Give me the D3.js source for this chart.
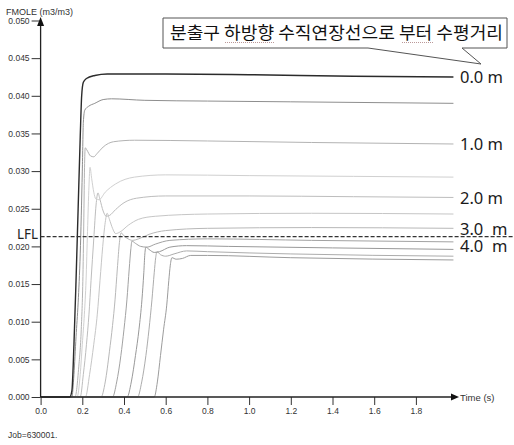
<!DOCTYPE html>
<html>
<head>
<meta charset="UTF-8">
<title>FMOLE vs Time</title>
<script src="https://d3js.org/d3.v7.min.js"></script>
<style>
  body { margin: 0; background: #fff; }
  svg text { font-family: "Liberation Sans", Arial, sans-serif; }
</style>
</head>
<body>
<svg id="chart" width="514" height="445"></svg>
<script>
// monitor points, horizontal distance (m)
const distances = ["0.0", "0.5", "1.0", "1.5", "2.0", "2.5", "3.0", "3.5", "4.0", "4.5", "5.0"];

// [time (s), FMOLE (m3/m3)]
const s00 = [[0,0],[0.14,0],[0.15,0.0008],[0.16,0.007],[0.17,0.0155],[0.18,0.025],[0.19,0.0345],[0.197,0.04],[0.205,0.0418],[0.22,0.0423],[0.26,0.0427],[0.32,0.0429],[0.6,0.0429],[1.0,0.0428],[1.5,0.0426],[1.98,0.0425]];
const s05 = [[0,0],[0.15,0],[0.16,0.003],[0.17,0.008],[0.18,0.0125],[0.19,0.019],[0.2,0.03],[0.205,0.0365],[0.212,0.0381],[0.23,0.0386],[0.26,0.039],[0.3,0.0395],[0.34,0.0396],[0.5,0.0394],[0.8,0.0393],[1.2,0.0392],[1.98,0.039]];
const s10 = [[0,0],[0.165,0],[0.183,0.004],[0.195,0.009],[0.203,0.016],[0.208,0.025],[0.211,0.031],[0.214,0.0331],[0.222,0.0328],[0.24,0.032],[0.255,0.0319],[0.27,0.0323],[0.3,0.0332],[0.35,0.0339],[0.45,0.0341],[0.8,0.034],[1.3,0.0338],[1.98,0.0336]];
const s15 = [[0,0],[0.175,0],[0.19,0.003],[0.2,0.007],[0.21,0.011],[0.218,0.0155],[0.225,0.022],[0.232,0.028],[0.237,0.0305],[0.245,0.029],[0.255,0.0272],[0.265,0.0263],[0.28,0.0262],[0.31,0.0272],[0.36,0.0283],[0.45,0.0292],[0.6,0.0295],[1.0,0.0294],[1.5,0.0293],[1.98,0.0292]];
const s20 = [[0,0],[0.19,0],[0.205,0.003],[0.22,0.007],[0.232,0.011],[0.242,0.0155],[0.255,0.021],[0.266,0.0255],[0.275,0.0271],[0.285,0.0262],[0.3,0.0247],[0.315,0.024],[0.33,0.0241],[0.36,0.0249],[0.4,0.0258],[0.46,0.0264],[0.6,0.0267],[1.0,0.0267],[1.5,0.0266],[1.98,0.0265]];
const s25 = [[0,0],[0.215,0],[0.235,0.003],[0.255,0.007],[0.272,0.011],[0.285,0.0155],[0.298,0.02],[0.31,0.0232],[0.319,0.0244],[0.33,0.0236],[0.345,0.0224],[0.36,0.0217],[0.38,0.0219],[0.42,0.0228],[0.47,0.0236],[0.55,0.024],[0.8,0.0243],[1.3,0.0244],[1.98,0.0243]];
const s30 = [[0,0],[0.29,0],[0.31,0.002],[0.33,0.006],[0.345,0.0095],[0.357,0.0129],[0.368,0.017],[0.378,0.0205],[0.386,0.0218],[0.4,0.0214],[0.42,0.021],[0.44,0.0208],[0.47,0.021],[0.52,0.0216],[0.6,0.0221],[0.8,0.0224],[1.3,0.0225],[1.98,0.0224]];
const s35 = [[0,0],[0.345,0],[0.365,0.002],[0.385,0.0055],[0.4,0.009],[0.414,0.0129],[0.425,0.017],[0.433,0.0197],[0.438,0.0207],[0.455,0.0204],[0.48,0.02],[0.51,0.0199],[0.55,0.0203],[0.62,0.0208],[0.8,0.021],[1.3,0.0208],[1.98,0.0206]];
const s40 = [[0,0],[0.415,0],[0.435,0.002],[0.455,0.0055],[0.472,0.009],[0.486,0.0129],[0.495,0.0165],[0.5,0.019],[0.505,0.0199],[0.52,0.0196],[0.545,0.0192],[0.57,0.0193],[0.62,0.0199],[0.7,0.0201],[0.9,0.02],[1.4,0.0198],[1.98,0.0196]];
const s45 = [[0,0],[0.465,0],[0.485,0.002],[0.505,0.0055],[0.52,0.009],[0.534,0.0129],[0.545,0.0165],[0.552,0.0185],[0.558,0.0193],[0.575,0.0189],[0.6,0.0187],[0.64,0.019],[0.7,0.0194],[0.8,0.0193],[1.2,0.019],[1.98,0.0187]];
const s50 = [[0,0],[0.545,0],[0.56,0.002],[0.575,0.0055],[0.59,0.009],[0.605,0.0122],[0.615,0.0155],[0.622,0.0175],[0.63,0.0185],[0.65,0.0183],[0.68,0.0184],[0.72,0.0188],[0.8,0.0188],[1.2,0.0185],[1.98,0.0182]];
const series = [s00, s05, s10, s15, s20, s25, s30, s35, s40, s45, s50];

const lineColors = ["#2b2b2b", "#8e8e8e", "#b3b3b3", "#d0d0d0", "#bdbdbd", "#c6c6c6", "#b8b8b8", "#a2a2a2", "#999999", "#acacac", "#9c9c9c"];

const xTicks = [0, 0.2, 0.4, 0.6, 0.8, 1.0, 1.2, 1.4, 1.6, 1.8];
const yTicks = [0, 0.005, 0.010, 0.015, 0.020, 0.025, 0.030, 0.035, 0.040, 0.045, 0.050];

const LFL = 0.0213;

// right-hand labels and the FMOLE level they sit at
const endLabels = ["0.0 m", "1.0 m", "2.0 m", "3.0  m", "4.0  m"];
const endLabelAt = [0.0425, 0.0336, 0.0264, 0.0223, 0.02];

const calloutText = "분출구 하방향 수직연장선으로 부터 수평거리";

const svg = d3.select("#chart");

const x = d3.scaleLinear([0, 2], [40.6, 457.6]);
const y = d3.scaleLinear([0, 0.05], [397, 20.5]);

// curves (lightest first, 0.0 m on top)
const line = d3.line()
    .x(d => x(d[0]))
    .y(d => y(d[1]))
    .curve(d3.curveMonotoneX);

const curves = svg.append("g").attr("id", "curves");
const order = d3.range(series.length).reverse();
curves.selectAll("path.curve").data(order)
    .join("path")
    .attr("class", "curve")
    .attr("fill", "none")
    .attr("stroke", i => lineColors[i])
    .attr("stroke-width", i => i === 0 ? 1.4 : 1)
    .attr("d", i => line(series[i]));

// axes
const yAxis = svg.append("g")
    .attr("transform", `translate(${x(0)},0)`)
    .call(d3.axisLeft(y).tickValues(yTicks).tickSize(9).tickPadding(2).tickFormat(d3.format(".3f")));
const xAxis = svg.append("g")
    .attr("transform", `translate(0,${y(0)})`)
    .call(d3.axisBottom(x).tickValues(xTicks).tickSize(8).tickPadding(3).tickFormat(d3.format(".1f")));

[yAxis, xAxis].forEach(a => {
    a.select(".domain").remove();
    a.selectAll("line").attr("stroke", "#333");
    a.selectAll("text").attr("fill", "#333")
        .style("font-family", "'Liberation Sans', Arial, sans-serif")
        .style("font-size", "8.5px");
});

svg.append("line")
    .attr("x1", x(0)).attr("x2", x(0))
    .attr("y1", y(0)).attr("y2", 22)
    .attr("stroke", "#222").attr("stroke-width", 1.3);
svg.append("path")
    .attr("d", `M${x(0)},17 L${x(0) - 3.5},26 L${x(0) + 3.5},26 Z`)
    .attr("fill", "#111");

svg.append("line")
    .attr("x1", x(0)).attr("x2", 454)
    .attr("y1", y(0)).attr("y2", y(0))
    .attr("stroke", "#222").attr("stroke-width", 1.3);
svg.append("path")
    .attr("d", `M459,${y(0)} L451,${y(0) - 3.5} L451,${y(0) + 3.5} Z`)
    .attr("fill", "#111");

svg.append("text")
    .attr("x", 6).attr("y", 15)
    .attr("font-size", 9).attr("fill", "#333")
    .text("FMOLE (m3/m3)");

svg.append("text")
    .attr("x", 460).attr("y", 401)
    .attr("font-size", 9.5).attr("fill", "#333")
    .text("Time (s)");

svg.append("text")
    .attr("x", 8).attr("y", 438)
    .attr("font-size", 8.5).attr("fill", "#333")
    .text("Job=630001.");

// LFL line
svg.append("line")
    .attr("x1", x(0)).attr("x2", 514)
    .attr("y1", y(LFL)).attr("y2", y(LFL))
    .attr("stroke", "#333").attr("stroke-width", 1.2)
    .attr("stroke-dasharray", "4,2");
svg.append("text")
    .attr("x", 17).attr("y", y(LFL) + 2.5)
    .attr("font-size", 14.5).attr("fill", "#222")
    .attr("textLength", 21).attr("lengthAdjust", "spacingAndGlyphs")
    .style("font-family", "'Noto Sans', sans-serif")
    .text("LFL");

// distance labels
svg.selectAll("text.endlabel").data(endLabels)
    .join("text")
    .attr("class", "endlabel")
    .attr("x", 460)
    .attr("y", (d, i) => y(endLabelAt[i]) + 6)
    .attr("font-size", 16.5)
    .attr("fill", "#1a1a1a")
    .style("font-family", "'Noto Sans', sans-serif")
    .style("white-space", "pre")
    .attr("xml:space", "preserve")
    .text(d => d);

// callout box
svg.append("path")
    .attr("d", "M163,18 H507 V48 H462 L481,64 L368,48 H163 Z")
    .attr("fill", "#fff")
    .attr("stroke", "#555")
    .attr("stroke-width", 1);
svg.append("text")
    .attr("x", 170).attr("y", 39)
    .attr("font-size", 17)
    .attr("fill", "#111")
    .attr("textLength", 333)
    .attr("lengthAdjust", "spacingAndGlyphs")
    .style("font-family", "'Noto Sans CJK KR', sans-serif")
    .text(calloutText);
// spell-check style dotted underlines
[[225, 274], [402, 434]].forEach(([a, b]) => {
    svg.append("line")
        .attr("x1", a).attr("x2", b)
        .attr("y1", 42.5).attr("y2", 42.5)
        .attr("stroke", "#b99").attr("stroke-width", 1)
        .attr("stroke-dasharray", "1,1");
});
</script>
</body>
</html>
